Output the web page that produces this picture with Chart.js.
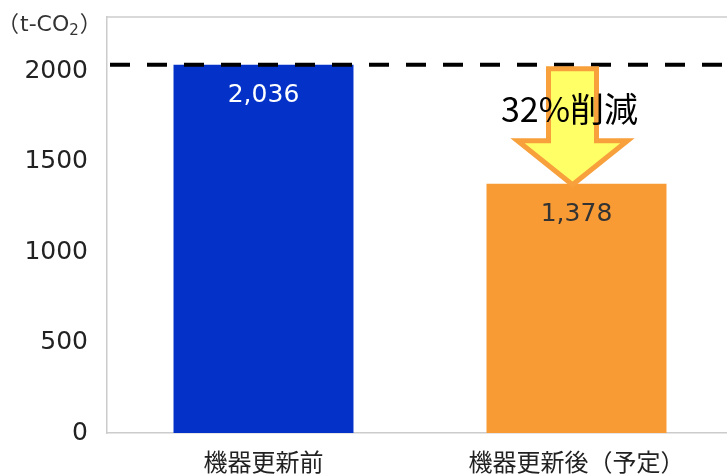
<!DOCTYPE html>
<html>
<head>
<meta charset="utf-8">
<script src="https://cdn.jsdelivr.net/npm/chart.js@4.4.1/dist/chart.umd.min.js"></script>
<style>
  html, body { margin: 0; padding: 0; background: #fff; overflow: hidden; }
  #wrap { position: relative; width: 733px; height: 474px; }
</style>
</head>
<body>
<div id="wrap"><canvas id="co2-chart"></canvas></div>
<script>
  var categories = ['機器更新前', '機器更新後（予定）'];
  var emissions = [2036, 1378];
  var valueLabels = ['2,036', '1,378'];
  var barColors = ['#0432c9', '#f89b35'];
  var labelColors = ['#ffffff', '#333333'];
  var reductionText = '32%削減';
  var yTicks = [0, 500, 1000, 1500, 2000];

  var FONT = '"Noto Sans CJK JP", "Noto Sans", sans-serif';
  var NUM_FONT = '"DejaVu Sans", "Noto Sans", sans-serif';

  // dashed reference line + top frame line + unit label
  var framePlugin = {
      id: 'frame',
      beforeDatasetsDraw: function(chart) {
          var ctx = chart.ctx;
          var area = chart.chartArea;
          ctx.save();
          ctx.strokeStyle = '#cccccc';
          ctx.lineWidth = 1.5;
          ctx.beginPath();
          ctx.moveTo(area.left, area.top);
          ctx.lineTo(area.right, area.top);
          ctx.stroke();
          ctx.restore();

          // unit
          ctx.save();
          ctx.fillStyle = '#333333';
          ctx.textBaseline = 'alphabetic';
          ctx.font = '22px ' + FONT;
          ctx.fillText('（', -3, 31);
          var x = 20;
          ctx.font = '22px ' + NUM_FONT;
          ctx.fillText('t-CO', x, 31);
          x += ctx.measureText('t-CO').width;
          ctx.font = '15px ' + NUM_FONT;
          ctx.fillText('2', x, 35);
          x += ctx.measureText('2').width + 1;
          ctx.font = '22px ' + FONT;
          ctx.fillText('）', x, 31);
          ctx.restore();
      },
      afterDatasetsDraw: function(chart) {
          var ctx = chart.ctx;
          var area = chart.chartArea;
          var yScale = chart.scales.y;
          var meta = chart.getDatasetMeta(0);

          // value labels
          ctx.save();
          ctx.font = '25px ' + NUM_FONT;
          ctx.textAlign = 'center';
          ctx.textBaseline = 'middle';
          meta.data.forEach(function(bar, i) {
              ctx.fillStyle = labelColors[i];
              ctx.fillText(valueLabels[i], bar.x, bar.y + 31);
          });
          ctx.restore();

          // dashed line at the "before" value
          var yRef = yScale.getPixelForValue(emissions[0]);
          ctx.save();
          ctx.strokeStyle = '#000000';
          ctx.lineWidth = 4;
          ctx.setLineDash([20, 17]);
          ctx.beginPath();
          ctx.moveTo(area.left + 3, yRef);
          ctx.lineTo(area.right, yRef);
          ctx.stroke();
          ctx.restore();

          // arrow from before value down to after value
          var bar2 = meta.data[1];
          var cx = bar2.x - 4;
          var yTop = yRef + 4;
          var yTip = yScale.getPixelForValue(emissions[1]) + 1;
          var shaftHalf = 24;
          var headHalf = 55;
          var headTop = yTip - 44;
          ctx.save();
          ctx.beginPath();
          ctx.moveTo(cx - shaftHalf, yTop);
          ctx.lineTo(cx + shaftHalf, yTop);
          ctx.lineTo(cx + shaftHalf, headTop);
          ctx.lineTo(cx + headHalf, headTop);
          ctx.lineTo(cx, yTip);
          ctx.lineTo(cx - headHalf, headTop);
          ctx.lineTo(cx - shaftHalf, headTop);
          ctx.closePath();
          ctx.fillStyle = '#ffff66';
          ctx.fill();
          ctx.lineWidth = 5;
          ctx.lineJoin = 'miter';
          ctx.strokeStyle = '#f7a03c';
          ctx.stroke();

          ctx.fillStyle = '#000000';
          ctx.font = '34px ' + FONT;
          ctx.textAlign = 'center';
          ctx.textBaseline = 'middle';
          ctx.fillText(reductionText, cx - 3, (yTop + headTop) / 2 + 4);
          ctx.restore();
      }
  };

  var chartConfig = {
      type: 'bar',
      data: {
          labels: categories,
          datasets: [{
              data: emissions,
              backgroundColor: barColors,
              borderWidth: 0,
              categoryPercentage: 1.0,
              barPercentage: 0.575
          }]
      },
      options: {
          responsive: false,
          animation: false,
          devicePixelRatio: 1,
          layout: { padding: { top: 17, right: 0, left: 0, bottom: 0 } },
          plugins: {
              legend: { display: false },
              tooltip: { enabled: false }
          },
          scales: {
              x: {
                  grid: { display: false, drawTicks: false },
                  border: { display: true, color: '#cccccc', width: 1.5 },
                  ticks: {
                      color: '#222222',
                      font: { family: FONT, size: 24 },
                      padding: 14,
                      maxRotation: 0
                  },
                  afterFit: function(scale) {
                      scale.height = 41;
                      scale.paddingLeft = 0;
                      scale.paddingRight = 0;
                  }
              },
              y: {
                  min: 0,
                  max: 2300,
                  grid: { display: false, drawTicks: false },
                  border: { display: true, color: '#cccccc', width: 1.5 },
                  ticks: {
                      color: '#222222',
                      font: { family: NUM_FONT, size: 25 },
                      padding: 19,
                      callback: function(value) { return String(value); }
                  },
                  afterBuildTicks: function(scale) {
                      scale.ticks = yTicks.map(function(v) { return { value: v }; });
                  },
                  afterFit: function(scale) {
                      scale.width = 107;
                      scale.paddingTop = 0;
                      scale.paddingBottom = 0;
                  }
              }
          }
      },
      plugins: [framePlugin]
  };

  var canvas = document.getElementById('co2-chart');
  canvas.width = 733;
  canvas.height = 474;
  canvas.style.width = '733px';
  canvas.style.height = '474px';
  window.co2Chart = new Chart(canvas.getContext('2d'), chartConfig);
</script>
</body>
</html>
